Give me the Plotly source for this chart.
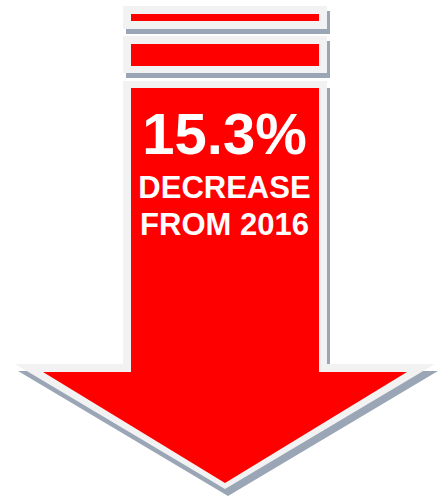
import plotly.graph_objects as go

# ---- content ----
headline = ["15.3%"]
caption_lines = ["DECREASE", "FROM 2016"]

# ---- styling ----
RED = "#ff0000"
BORDER = "#f2f2f2"
SHADOW = "#9aa5b5"
W, H = 443, 498
SH_DX, SH_DY = 3, 5

def rect_path(x0, y0, x1, y1, dx=0, dy=0):
    return f"M{x0+dx},{y0+dy} L{x1+dx},{y0+dy} L{x1+dx},{y1+dy} L{x0+dx},{y1+dy} Z"

def arrow_path(bx0, bx1, top, neck, hx0, hx1, tipx, tipy, dx=0, dy=0):
    pts = [(bx0, top), (bx1, top), (bx1, neck), (hx1, neck), (tipx, tipy),
           (hx0, neck), (bx0, neck)]
    return "M" + " L".join(f"{x+dx},{y+dy}" for x, y in pts) + " Z"

shapes = []
def add(path, color):
    shapes.append(dict(type="path", path=path, xref="x", yref="y",
                       fillcolor=color, line=dict(width=0), layer="below"))

# bars (outer, inner)
bars_outer = [(123, 6, 327, 29), (123, 36, 327, 73)]
bars_inner = [(131, 14, 319, 21), (131, 44, 319, 66)]
for (x0, y0, x1, y1), (ix0, iy0, ix1, iy1) in zip(bars_outer, bars_inner):
    add(rect_path(x0, y0, x1, y1, SH_DX, SH_DY), SHADOW)
    add(rect_path(x0, y0, x1, y1), BORDER)
    add(rect_path(ix0, iy0, ix1, iy1), RED)

# arrow
outer = dict(bx0=123, bx1=327, top=81, neck=364, hx0=15, hx1=435, tipx=225, tipy=489)
inner = dict(bx0=131, bx1=319, top=88, neck=372, hx0=43, hx1=407, tipx=225, tipy=483)
add(arrow_path(**outer, dx=SH_DX, dy=SH_DY + 2), SHADOW)
add(arrow_path(**outer), BORDER)
add(arrow_path(**inner), RED)

texts = headline + caption_lines
fig = go.Figure(go.Scatter(
    x=[224.5, 224.5, 224.5],
    y=[139, 190, 227],
    text=texts,
    mode="text",
    textposition="middle center",
    textfont=dict(family="Liberation Sans, Arial, sans-serif", size=[58, 31, 31],
                  color="white", weight="bold"),
    hoverinfo="skip",
))

fig.update_layout(
    width=W, height=H,
    margin=dict(l=0, r=0, t=0, b=0),
    paper_bgcolor="white", plot_bgcolor="white",
    showlegend=False,
    shapes=shapes,
    xaxis=dict(range=[0, W], visible=False, fixedrange=True),
    yaxis=dict(range=[H, 0], visible=False, fixedrange=True),
)
fig.write_html("out.html", config={"displayModeBar": False},
               post_script="document.body.style.margin='0';document.body.style.overflow='hidden';")
